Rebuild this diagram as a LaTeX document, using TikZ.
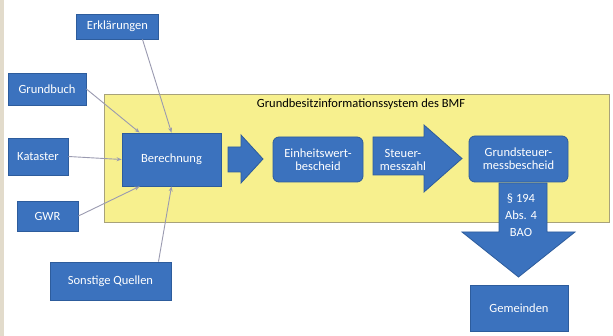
\documentclass[tikz,border=0pt]{standalone}
\usepackage{fontspec}
\setmainfont{Carlito}
\usetikzlibrary{arrows.meta}
\definecolor{boxblue}{HTML}{3B72BE}
\definecolor{boxedge}{HTML}{2D5C9C}
\definecolor{sysyellow}{HTML}{F7F08E}
\definecolor{sysedge}{HTML}{A8A27A}
\definecolor{linegray}{HTML}{9A9AB0}
\definecolor{beige}{HTML}{E2DBCB}
\tikzset{
  bluebox/.style={draw=boxedge, line width=0.8pt, fill=boxblue, text=white, font=\fontsize{12.5}{13}\selectfont, align=center, inner sep=1pt},
  roundbox/.style={bluebox, rounded corners=6pt},
  feed/.style={draw=linegray, line width=0.9pt, -{Stealth[length=5pt,width=4pt]}},
  blockarrow/.style={draw=boxedge, line width=0.8pt, fill=boxblue},
  wtext/.style={text=white, font=\fontsize{12.5}{13}\selectfont, align=center, inner sep=0pt}
}
\begin{document}
\begin{tikzpicture}[x=1pt,y=-1pt]
\useasboundingbox (0,0) rectangle (613,336);
\fill[white] (0,0) rectangle (613,336);
\fill[beige] (0,0) rectangle (4,336);
% system box
\draw[fill=sysyellow, draw=sysedge, line width=0.8pt] (104,94) rectangle (609,222);
\node[font=\fontsize{12.5}{13}\selectfont, inner sep=0pt] (title) at (361,104) {Grundbesitzinformationssystem des BMF};
% sources
\node[bluebox, minimum width=82pt, minimum height=25pt] (erk) at (117.5,26.5) {Erklärungen};
\node[bluebox, minimum width=78pt, minimum height=32pt] (gb) at (47,89) {Grundbuch};
\node[bluebox, minimum width=60pt, minimum height=37pt] (kat) at (38,156.5) {Kataster};
\node[bluebox, minimum width=61pt, minimum height=30pt] (gwr) at (47.5,216) {GWR};
\node[bluebox, minimum width=121pt, minimum height=38pt] (sq) at (110.5,281) {Sonstige Quellen};
% process
\node[bluebox, minimum width=99pt, minimum height=53pt] (ber) at (171.5,159.5) {Berechnung};
\node[roundbox, minimum width=90pt, minimum height=45pt] (ein) at (318,159.5) {Einheitswert-\\bescheid};
\node[roundbox, minimum width=99pt, minimum height=46pt] (gsm) at (518.5,159) {Grundsteuer-\\messbescheid};
\node[bluebox, minimum width=98pt, minimum height=46pt] (gem) at (519,308) {Gemeinden};
% block arrows
\draw[blockarrow] (228,147) -- (241,147) -- (241,135) -- (263,159) -- (241,183) -- (241,172) -- (228,172) -- cycle;
\draw[blockarrow] (373,137) -- (424,137) -- (424,125) -- (462,158.5) -- (424,192) -- (424,175) -- (373,175) -- cycle;
\node[wtext] (smz) at (403,159.5) {Steuer-\\messzahl};
\draw[blockarrow] (499,183) -- (547,183) -- (547,232) -- (575,232) -- (518.5,277) -- (462,232) -- (499,232) -- cycle;
\node[wtext, font=\fontsize{12.5}{17}\selectfont] (bao) at (521,215) {§ 194\\Abs. 4\\BAO};
% feeds
\draw[feed] ([xshift=25pt]erk.south) -- (ber.north);
\draw[feed] (gb.east) -- ([xshift=18pt]ber.north west);
\draw[feed] (kat.east) -- (ber.west);
\draw[feed] (gwr.east) -- ([xshift=18pt]ber.south west);
\draw[feed] ([xshift=48pt]sq.north) -- (ber.south);
\end{tikzpicture}
\end{document}
